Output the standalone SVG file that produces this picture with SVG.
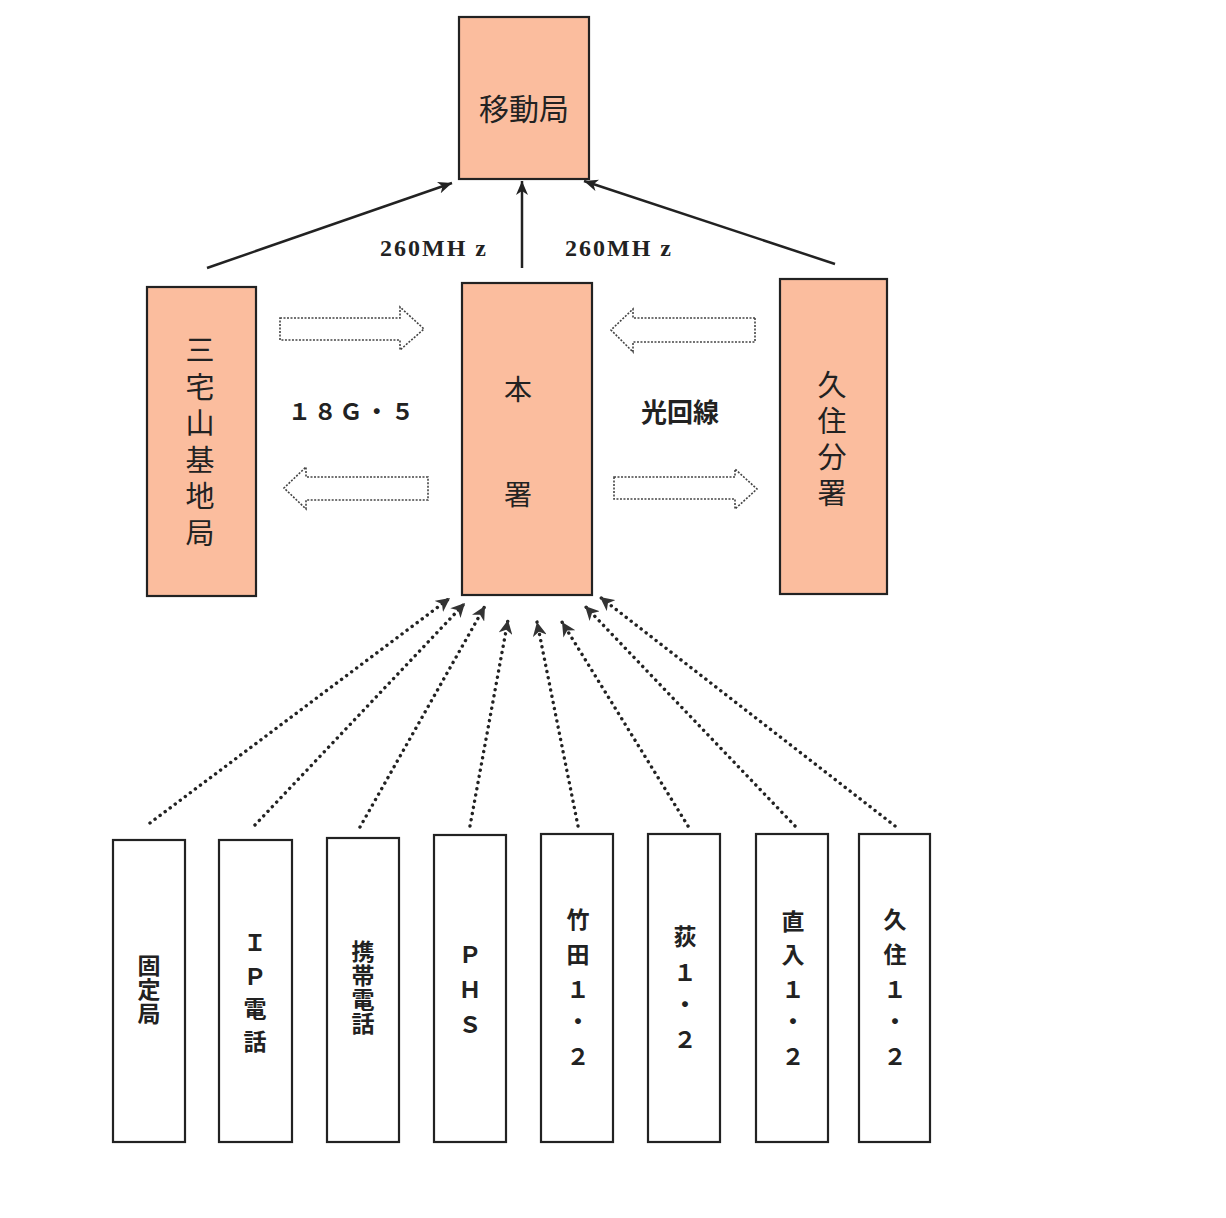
<svg xmlns="http://www.w3.org/2000/svg" width="1226" height="1218" viewBox="0 0 1226 1218">
<style>
.nd{fill:#fbbd9e;stroke:#222;stroke-width:2.2}
.bx{fill:#fff;stroke:#222;stroke-width:2.2}
.t{font-family:"Liberation Serif","Noto Sans CJK JP",serif;fill:#222;text-anchor:middle;dominant-baseline:central}
.cj{font-family:"Noto Sans CJK JP",sans-serif;fill:#222;text-anchor:middle;dominant-baseline:central}
.vt{font-family:"Noto Sans CJK JP",sans-serif;fill:#222;writing-mode:vertical-rl;text-anchor:middle}
.solid{stroke:#222;stroke-width:2.5;fill:none;marker-end:url(#ah)}
.dot{stroke:#222;stroke-width:3.4;fill:none;stroke-dasharray:0.1 6.2;stroke-linecap:round;marker-end:url(#dh)}
.blk{fill:none;stroke:#444;stroke-width:1.6;stroke-dasharray:2 1.5}
</style>
<defs>
<marker id="ah" markerUnits="userSpaceOnUse" markerWidth="16" markerHeight="12" refX="14" refY="6" orient="auto"><path d="M0,0 L14,6 L0,12 L4,6 Z" fill="#222"/></marker>
<marker id="dh" markerUnits="userSpaceOnUse" markerWidth="16" markerHeight="14" refX="14" refY="7" orient="auto"><path d="M0,0 L14,7 L0,14 L4,7 Z" fill="#333"/></marker>
</defs>
<g id="connectors">
<line class="solid" x1="207" y1="268" x2="452" y2="183"/>
<line class="solid" x1="522" y1="268" x2="522" y2="181"/>
<line class="solid" x1="835" y1="264" x2="584" y2="181"/>
<line class="dot" x1="150" y1="823" x2="450" y2="598"/>
<line class="dot" x1="255" y1="825" x2="465" y2="603"/>
<line class="dot" x1="360" y1="827" x2="485" y2="606"/>
<line class="dot" x1="470" y1="826" x2="508" y2="620"/>
<line class="dot" x1="578" y1="826" x2="537" y2="622"/>
<line class="dot" x1="688" y1="826" x2="562" y2="622"/>
<line class="dot" x1="795" y1="826" x2="585" y2="606"/>
<line class="dot" x1="895" y1="826" x2="600" y2="597"/>
<path class="blk" d="M280,318 L400,318 L400,307 L424,329 L400,350 L400,340 L280,340 Z"/>
<path class="blk" d="M428,477 L306,477 L306,467 L284,488 L306,509 L306,500 L428,500 Z"/>
<path class="blk" d="M755,318 L633,318 L633,309 L611,330 L633,352 L633,342 L755,342 Z"/>
<path class="blk" d="M614,477 L735,477 L735,469 L757,489 L735,509 L735,499 L614,499 Z"/>
<text class="t" x="433" y="248" font-size="24" font-weight="bold" textLength="106" lengthAdjust="spacing">260MH z</text>
<text class="t" x="618" y="248" font-size="24" font-weight="bold" textLength="106" lengthAdjust="spacing">260MH z</text>
<text class="t" x="351" y="412" font-size="23" font-weight="bold" textLength="126" lengthAdjust="spacing">１８Ｇ・５</text>
<text class="cj" x="680" y="410" font-size="26" font-weight="bold">光回線</text>
</g>
<g id="n-idokyoku">
<rect class="nd" x="459" y="17" width="130" height="162"/>
<text class="cj" x="524" y="107" font-size="30">移動局</text>
</g>
<g id="n-miyakeyama">
<rect class="nd" x="147" y="287" width="109" height="309"/>
<text class="vt" x="200" y="445" font-size="29" letter-spacing="7.5">三宅山基地局</text>
</g>
<g id="n-honsho">
<rect class="nd" x="462" y="283" width="130" height="312"/>
<text class="cj" x="518" y="388" font-size="28">本</text>
<text class="cj" x="518" y="493" font-size="28">署</text>
</g>
<g id="n-kujubunsho">
<rect class="nd" x="780" y="279" width="107" height="315"/>
<text class="vt" x="832" y="442" font-size="29" letter-spacing="7">久住分署</text>
</g>
<g id="n-koteikyoku">
<rect class="bx" x="113" y="840" width="72" height="302"/>
<text class="vt" x="149" y="990" font-size="23" letter-spacing="1" font-weight="bold">固定局</text>
</g>
<g id="n-ipdenwa">
<rect class="bx" x="219" y="840" width="73" height="302"/>
<g class="t" font-size="23" font-weight="bold"><text x="255" y="943">Ｉ</text><text x="255" y="977">Ｐ</text><text x="255" y="1009">電</text><text x="255" y="1042">話</text></g>
</g>
<g id="n-keitai">
<rect class="bx" x="327" y="838" width="72" height="304"/>
<text class="vt" x="363" y="988" font-size="23" letter-spacing="1" font-weight="bold">携帯電話</text>
</g>
<g id="n-phs">
<rect class="bx" x="434" y="835" width="72" height="307"/>
<g class="t" font-size="23" font-weight="bold"><text x="470" y="955">Ｐ</text><text x="470" y="990">Ｈ</text><text x="470" y="1025">Ｓ</text></g>
</g>
<g id="n-taketa">
<rect class="bx" x="541" y="834" width="72" height="308"/>
<g class="t" font-size="23" font-weight="bold"><text x="578" y="920">竹</text><text x="578" y="955">田</text><text x="578" y="990">１</text><text x="578" y="1022">・</text><text x="578" y="1057">２</text></g>
</g>
<g id="n-ogi">
<rect class="bx" x="648" y="834" width="72" height="308"/>
<g class="t" font-size="23" font-weight="bold"><text x="685" y="937">荻</text><text x="685" y="973">１</text><text x="685" y="1005">・</text><text x="685" y="1040">２</text></g>
</g>
<g id="n-naoiri">
<rect class="bx" x="756" y="834" width="72" height="308"/>
<g class="t" font-size="23" font-weight="bold"><text x="793" y="922">直</text><text x="793" y="955">入</text><text x="793" y="990">１</text><text x="793" y="1022">・</text><text x="793" y="1057">２</text></g>
</g>
<g id="n-kuju">
<rect class="bx" x="859" y="834" width="71" height="308"/>
<g class="t" font-size="23" font-weight="bold"><text x="895" y="920">久</text><text x="895" y="955">住</text><text x="895" y="990">１</text><text x="895" y="1022">・</text><text x="895" y="1057">２</text></g>
</g>
</svg>
